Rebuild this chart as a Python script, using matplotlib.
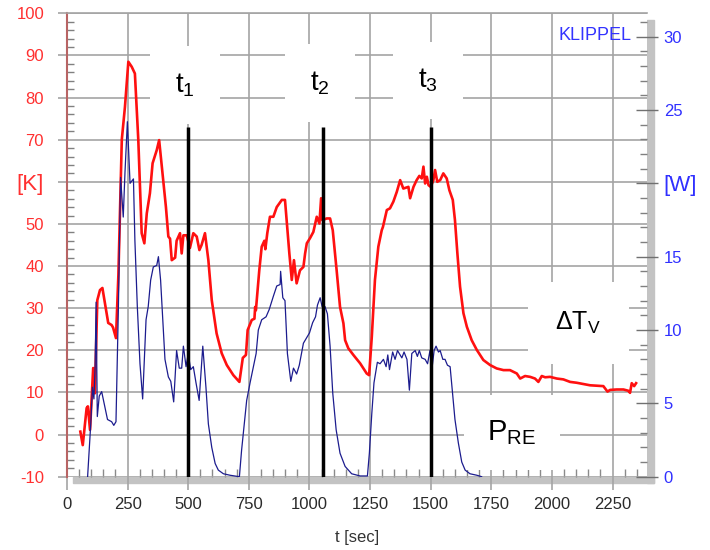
import matplotlib
matplotlib.use("Agg")
import matplotlib.pyplot as plt
from matplotlib.ticker import MultipleLocator
from matplotlib.patches import Rectangle

plt.rcParams['font.family'] = ['Liberation Sans', 'DejaVu Sans']
plt.rcParams['mathtext.fontset'] = 'custom'
plt.rcParams['mathtext.rm'] = 'Liberation Sans'

# temperature rise of the voice coil [K] (left axis)
t_temp = [55, 65, 81, 86, 95, 108, 115, 125, 136, 146, 170, 184, 190, 202, 212, 226, 239, 253, 267, 280,
          294, 308, 319, 329, 342, 353, 370, 380, 391, 408, 418, 425, 432, 446, 452, 466, 473, 480, 494, 507,
          521, 535, 546, 555, 569, 583, 597, 617, 638, 659, 686, 711, 725, 738, 745, 762, 773, 776, 779, 793,
          803, 814, 818, 826, 837, 851, 865, 886, 899, 917, 927, 936, 947, 961, 975, 982, 989, 1002, 1016, 1030,
          1041, 1048, 1053, 1071, 1085, 1096, 1112, 1126, 1140, 1147, 1160, 1181, 1209, 1236, 1246, 1257, 1270,
          1284, 1298, 1303, 1319, 1332, 1346, 1360, 1374, 1387, 1408, 1415, 1429, 1442, 1453, 1463, 1470, 1477,
          1484, 1491, 1500, 1511, 1518, 1527, 1539, 1552, 1566, 1577, 1591, 1600, 1610, 1621, 1635, 1649, 1669,
          1690, 1717, 1745, 1772, 1800, 1827, 1855, 1869, 1889, 1910, 1930, 1944, 1958, 1972, 1992, 2020, 2047,
          2075, 2102, 2130, 2157, 2185, 2212, 2229, 2240, 2267, 2295, 2315, 2322, 2329, 2339, 2347]
dT = [0.7, -2.5, 6.3, 6.7, 1.1, 15.8, 9.8, 31.9, 34.3, 34.8, 26.5, 26.0, 25.4, 22.9, 38.0, 70.0, 77.8, 88.5, 87.3, 85.7,
      70.0, 47.8, 45.4, 52.5, 57.3, 64.4, 67.5, 69.9, 63.6, 54.0, 47.0, 46.5, 41.4, 42.0, 46.0, 47.8, 43.0, 47.3, 47.3, 44.3,
      47.8, 47.0, 43.8, 45.0, 47.8, 41.4, 31.9, 24.0, 19.3, 16.5, 14.1, 12.5, 18.2, 18.9, 24.8, 27.2, 27.5, 30.3, 29.5, 39.0,
      44.6, 46.0, 44.0, 47.8, 51.7, 51.7, 54.0, 55.7, 55.7, 43.0, 36.7, 41.4, 35.9, 39.0, 39.8, 43.0, 45.4, 46.6, 48.1, 51.7,
      50.1, 56.1, 50.9, 51.3, 51.3, 48.5, 39.0, 30.3, 26.4, 22.4, 20.5, 18.9, 16.9, 14.5, 14.1, 23.2, 36.7,
      44.6, 48.5, 49.3, 53.3, 53.7, 55.3, 57.6, 60.4, 58.4, 58.8, 56.1, 58.8, 60.4, 61.4, 60.8, 63.6, 59.6,
      61.2, 59.2, 58.8, 60.4, 62.8, 60.0, 60.4, 62.0, 60.8, 58.0, 55.7, 50.9, 43.0, 35.1, 28.8, 25.6, 22.4,
      20.1, 17.7, 16.5, 15.7, 15.3, 15.3, 14.5, 13.3, 13.9, 13.7, 13.3, 12.5, 13.9, 13.6, 13.7, 13.3, 13.1,
      12.5, 12.3, 12.0, 11.7, 11.6, 11.5, 10.2, 10.6, 10.7, 10.7, 10.4, 9.9, 12.2, 11.5, 12.2]

# real electrical input power [W] (right axis)
t_pow = [85, 98, 105, 111, 116, 120, 125, 133, 143, 153, 167, 184, 193, 202, 212, 221, 232, 239, 249, 260,
         274, 280, 290, 301, 312, 326, 335, 345, 356, 370, 377, 386, 404, 418, 428, 440, 452, 463, 473, 480,
         491, 500, 510, 521, 532, 545, 560, 573, 583, 597, 611, 624, 645, 672, 700, 711, 720, 730, 741, 755,
         769, 780, 789, 803, 821, 834, 851, 865, 879, 881, 890, 899, 909, 923, 934, 947, 958, 975, 989, 1000,
         1013, 1025, 1033, 1044, 1052, 1064, 1074, 1085, 1096, 1110, 1126, 1147, 1174, 1209, 1239, 1247, 1257,
         1266, 1280, 1291, 1305, 1316, 1323, 1330, 1343, 1353, 1363, 1381, 1390, 1402, 1412, 1422, 1436, 1445,
         1453, 1463, 1477, 1487, 1497, 1504, 1514, 1522, 1532, 1539, 1550, 1559, 1569, 1580, 1591, 1600, 1614,
         1628, 1642, 1662, 1690, 1710]
P_re = [0.0, 3.6, 6.1, 5.3, 7.5, 11.9, 4.1, 5.5, 5.8, 5.0, 3.9, 3.75, 3.5, 3.75, 11.6, 20.4, 17.7, 20.7, 24.2, 20.0,
        20.3, 16.1, 11.6, 7.7, 5.3, 10.7, 11.6, 13.4, 14.3, 14.4, 15.0, 13.4, 8.0, 6.8, 6.5, 5.1, 8.6, 7.4, 7.4, 8.9,
        7.5, 8.4, 7.3, 7.5, 6.4, 5.2, 8.9, 6.1, 3.6, 2.0, 0.9, 0.45, 0.2, 0.1, 0.03, 0.0, 1.8, 3.4, 5.2, 6.4,
        7.5, 8.4, 10.0, 10.7, 10.9, 11.4, 12.3, 13.0, 13.1, 14.0, 12.2, 12.0, 8.4, 6.5, 7.4, 7.0, 7.6, 9.1, 9.5, 9.8,
        10.5, 10.9, 11.7, 12.2, 11.6, 11.6, 11.1, 8.9, 5.7, 3.2, 1.6, 0.7, 0.2, 0.05, 0.05, 1.6, 4.3,
        6.4, 7.8, 7.7, 8.0, 7.5, 8.3, 7.3, 8.5, 8.0, 8.6, 8.1, 8.5, 8.0, 5.9, 8.4, 8.6, 8.2,
        8.6, 8.1, 8.0, 7.7, 8.6, 7.2, 8.6, 8.9, 8.5, 8.6, 8.0, 8.0, 7.6, 7.5, 5.5, 3.9, 2.3,
        1.0, 0.45, 0.2, 0.1, 0.0]

t_marks = [500, 1055, 1500]
x_ticks = list(range(0, 2251, 250))
k_ticks = list(range(-10, 101, 10))
k_labels = ['[K]' if v == 60 else str(v) for v in k_ticks]
w_ticks = [0, 5, 10, 15, 20, 25, 30]
w_labels = ['[W]' if v == 20 else str(v) for v in w_ticks]

W, H = 710, 550
fig = plt.figure(figsize=(W / 100, H / 100), dpi=100)
ax = fig.add_axes([67 / W, (H - 476.7) / H, 580 / W, 463.4 / H])

# drop shadow of the plot frame
fig.patches.append(Rectangle((73 / W, (H - 483) / H), (654 - 73) / W, 6.3 / H,
                             transform=fig.transFigure, color='#c3c3c3', zorder=-1))
fig.patches.append(Rectangle((647 / W, (H - 483) / H), 7 / W, (483 - 20) / H,
                             transform=fig.transFigure, color='#c3c3c3', zorder=-1))

grid_c = '#a4a4a4'
ax.set_xlim(0, 2392)
ax.set_ylim(-10, 100)
ax.set_axisbelow(True)
ax.grid(True, which='major', color=grid_c, lw=1.2)

ax.plot(t_temp, dT, color='#ff1010', lw=1.9, zorder=2)

ax.set_xticks(x_ticks)
ax.xaxis.set_minor_locator(MultipleLocator(50))
ax.set_yticks(k_ticks)
ax.set_yticklabels(k_labels)
ax.yaxis.set_minor_locator(MultipleLocator(2))
ax.tick_params(axis='x', which='major', direction='out', length=9.5, width=1.2, color=grid_c,
               labelsize=12, labelcolor='#2a2a2a', pad=5)
ax.tick_params(axis='x', which='minor', direction='in', length=5.8, width=1.0, color='#8a8a8a')
ax.tick_params(axis='y', which='major', direction='out', length=6.5, width=1.2, color=grid_c,
               labelsize=12, labelcolor='#ff3030', pad=10)
ax.tick_params(axis='y', which='minor', direction='in', length=5, width=1.0, color='#808080')
for lab in ax.get_yticklabels():
    if lab.get_text() == '[K]':
        lab.set_fontsize(16)

for s in ['right', 'bottom']:
    ax.spines[s].set_visible(False)
ax.spines['left'].set_color('#b86464')
ax.spines['left'].set_linewidth(1.5)
ax.spines['top'].set_color(grid_c)
ax.spines['top'].set_linewidth(1.2)

ax.set_xlabel('t [sec]', fontsize=12, color='#333333', labelpad=13)

# labels in white boxes
box = dict(boxstyle='square,pad=0.9', fc='white', ec='none')
for tm, lbl, yk in zip(t_marks, ['1', '2', '3'], [83, 83.5, 84]):
    ax.text(tm - 13, yk, r'$\mathregular{t_%s}$' % lbl, fontsize=20, ha='center', va='center',
            color='black', bbox=box, zorder=1)
ax.text(2108, 26.5, r'$\mathregular{ΔT_V}$', fontsize=18, ha='center', va='center',
        color='black', bbox=dict(boxstyle='square,pad=1.1', fc='white', ec='none'), zorder=1)
ax.text(1835, 0.5, r'$\mathregular{P_{RE}}$', fontsize=21, ha='center', va='center',
        color='black', bbox=dict(boxstyle='square,pad=0.8', fc='white', ec='none'), zorder=1)
ax.text(2178, 94.8, 'KLIPPEL', fontsize=13, ha='center', va='center', color='#3333ff', zorder=3)

ax2 = ax.twinx()
ax2.set_ylim(0, 31.59)
ax2.plot(t_pow, P_re, color='#1c1c8e', lw=0.9, zorder=2)
ax2.vlines(t_marks, 0, 83 / 110, transform=ax2.get_xaxis_transform(), color='black', lw=2.5, zorder=3)
ax2.set_yticks(w_ticks)
ax2.set_yticklabels(w_labels)
ax2.yaxis.set_minor_locator(MultipleLocator(1))
ax2.tick_params(axis='y', which='major', direction='inout', length=16, width=1.0, color='#707070',
                labelsize=12, labelcolor='#3030ff', pad=4)
ax2.tick_params(axis='y', which='minor', direction='in', length=5, width=1.0, color='#808080')
for lab in ax2.get_yticklabels():
    if lab.get_text() == '[W]':
        lab.set_fontsize(16)
for s in ax2.spines.values():
    s.set_visible(False)
ax2.set_xlim(0, 2392)

fig.savefig('out.png', dpi=100)
